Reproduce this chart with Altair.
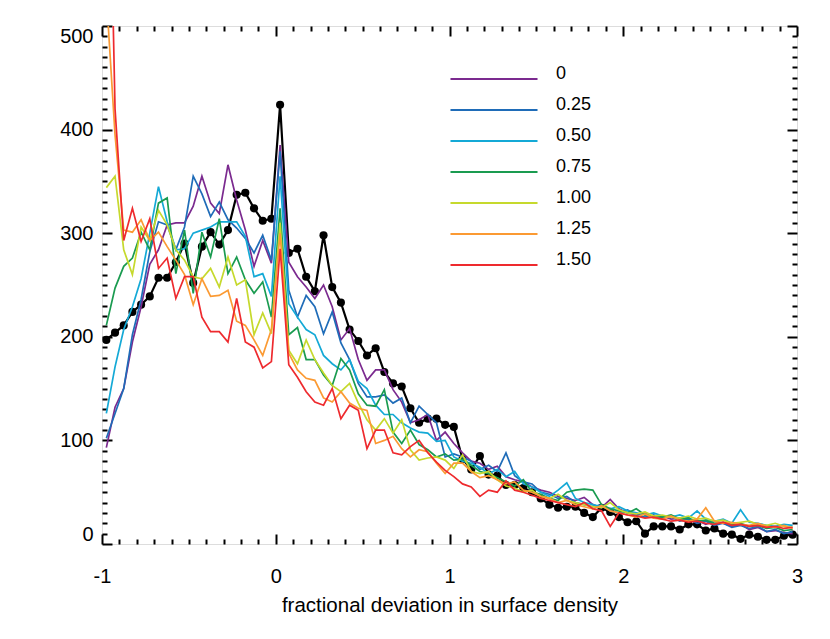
import altair as alt
import pandas as pd

# bin centres of the histogram (step 0.05 from -0.975 to 2.975)
x_centres = [round(-0.975 + 0.05 * i, 3) for i in range(80)]

series_names = ["0", "0.25", "0.50", "0.75", "1.00", "1.25", "1.50"]
series_colors = ["#7b2a8f", "#1f6cb8", "#14a9d6", "#1a9b50", "#c6d92d", "#fb9a33", "#ee2a2e"]

s_000 = [93, 132, 150, 195, 229, 270, 284, 308, 310, 310,
         326, 355, 329, 319, 366, 332, 303, 268, 293, 271,
         385, 272, 258, 248, 237, 250, 229, 197, 208, 178,
         158, 168, 168, 149, 137, 117, 120, 125, 100, 108,
         97, 88, 80, 78, 72, 75, 65, 62, 60, 55,
         52, 50, 46, 44, 42, 45, 38, 35, 43, 34,
         30, 28, 30, 26, 27, 24, 25, 22, 23, 19,
         22, 20, 17, 19, 14, 16, 12, 13, 11, 10]
s_025 = [102, 126, 150, 202, 236, 282, 311, 308, 284, 306,
         355, 338, 316, 330, 313, 305, 295, 281, 298, 274,
         379, 245, 219, 240, 229, 203, 224, 194, 178, 155,
         142, 142, 144, 136, 141, 117, 133, 125, 117, 84,
         87, 84, 80, 72, 76, 70, 88, 66, 60, 58,
         50, 48, 44, 46, 40, 38, 36, 38, 32, 30,
         33, 28, 26, 28, 25, 27, 22, 24, 20, 22,
         18, 20, 16, 18, 15, 17, 12, 14, 10, 12]
s_050 = [126, 171, 207, 229, 256, 300, 345, 311, 284, 285,
         300, 303, 306, 311, 311, 311, 297, 258, 261, 239,
         355, 232, 219, 207, 202, 182, 174, 168, 178, 157,
         150, 134, 125, 125, 117, 112, 108, 107, 99, 100,
         84, 80, 78, 74, 68, 72, 65, 70, 58, 55,
         50, 46, 52, 59, 44, 40, 38, 36, 34, 36,
         32, 30, 28, 30, 27, 26, 28, 25, 32, 24,
         22, 24, 20, 33, 21, 20, 18, 17, 19, 18]
s_075 = [211, 247, 268, 276, 301, 284, 329, 334, 261, 303,
         242, 301, 277, 314, 261, 277, 255, 242, 253, 219,
         324, 202, 209, 178, 178, 163, 153, 179, 168, 145,
         134, 133, 149, 108, 97, 110, 96, 91, 84, 87,
         81, 82, 76, 70, 68, 64, 60, 56, 62, 50,
         48, 44, 42, 50, 52, 53, 52, 38, 34, 32,
         30, 34, 28, 27, 26, 28, 24, 25, 22, 23,
         20, 21, 19, 20, 17, 18, 15, 16, 13, 14]
s_100 = [344, 355, 284, 260, 306, 293, 322, 308, 284, 274,
         258, 256, 266, 248, 277, 250, 255, 202, 223, 203,
         310, 187, 174, 197, 178, 165, 153, 147, 155, 136,
         120, 110, 121, 107, 120, 91, 81, 83, 84, 81,
         73, 86, 70, 68, 70, 62, 56, 54, 50, 52,
         46, 44, 48, 42, 40, 38, 36, 35, 40, 33,
         30, 29, 31, 27, 28, 26, 25, 27, 24, 25,
         22, 23, 20, 21, 22, 19, 18, 20, 17, 16]
s_125 = [530, 395, 303, 301, 313, 293, 301, 287, 274, 260,
         231, 256, 239, 240, 245, 215, 211, 197, 182, 207,
         300, 184, 168, 160, 158, 141, 137, 147, 136, 131,
         129, 97, 100, 104, 92, 84, 91, 89, 78, 68,
         78, 78, 70, 64, 66, 62, 58, 60, 52, 50,
         46, 44, 40, 42, 38, 36, 34, 37, 32, 30,
         28, 26, 29, 25, 24, 27, 23, 22, 24, 35,
         22, 20, 21, 19, 18, 20, 17, 16, 18, 15]
s_150 = [820, 420, 293, 324, 292, 314, 266, 276, 237, 258,
         258, 219, 205, 205, 195, 237, 195, 190, 170, 176,
         285, 173, 161, 147, 137, 134, 150, 121, 134, 129,
         92, 110, 110, 88, 86, 94, 100, 88, 79, 71,
         65, 58, 55, 46, 52, 50, 61, 52, 50, 47,
         44, 42, 40, 38, 36, 40, 34, 32, 17, 30,
         28, 27, 25, 26, 24, 22, 23, 21, 22, 20,
         19, 21, 18, 19, 17, 18, 16, 17, 15, 16]
s_black = [197, 204, 211, 224, 231, 239, 257, 257, 272, 290,
           252, 287, 301, 289, 303, 337, 339, 324, 312, 314,
           424, 281, 285, 258, 244, 298, 248, 233, 207, 196,
           182, 189, 166, 155, 152, 131, 117, 121, 121, 115,
           113, 82, 72, 85, 67, 66, 57, 57, 54, 50,
           44, 38, 35, 36, 36, 30, 26, 35, 31, 26,
           21, 22, 10, 17, 17, 17, 14, 19, 19, 13,
           15, 10, 9, 5, 9, 7, 4, 4, 8, 9]

x_major = [-1, 0, 1, 2, 3]
x_minor = [round(-1 + 0.1 * k, 1) for k in range(41) if k % 10 != 0]
y_major = [0, 100, 200, 300, 400, 500]
y_minor = [v for v in range(0, 501, 10) if v % 100 != 0]

colored = [s_000, s_025, s_050, s_075, s_100, s_125, s_150]
rows = []
for order, (name, vals) in enumerate(zip(series_names, colored)):
    for xv, yv in zip(x_centres, vals):
        rows.append({"x": xv, "y": yv, "series": name, "order": order})
df_col = pd.DataFrame(rows)
df_blk = pd.DataFrame({"x": x_centres, "y": s_black})

FONT = "Liberation Sans"
xs = alt.Scale(domain=[-1, 3], nice=False, zero=False)
ys = alt.Scale(domain=[0, 500], nice=False, zero=False)


def tick_axis(orient, values, size, labels=False, **kw):
    title = kw.pop("title", None)
    return alt.Axis(orient=orient, values=values, offset=-size, tickSize=size,
                    tickWidth=2, tickColor="black", domain=False, grid=False,
                    labels=labels, title=title, **kw)


lbl_expr = "datum.value < 0 ? '-' + abs(datum.value) : '' + datum.value"

black_line = alt.Chart(df_blk).mark_line(color="black", strokeWidth=2.2).encode(
    x=alt.X("x:Q", scale=xs, axis=tick_axis("top", x_major, 10)),
    y=alt.Y("y:Q", scale=ys, axis=tick_axis("right", y_major, 10)),
)

black_pts = alt.Chart(df_blk).mark_circle(color="black", size=66, opacity=1).encode(
    x=alt.X("x:Q", scale=xs, axis=tick_axis("bottom", x_minor, 5)),
    y=alt.Y("y:Q", scale=ys, axis=tick_axis("left", y_minor, 5)),
)

colored_lines = alt.Chart(df_col).mark_line(strokeWidth=1.7, clip=True).encode(
    x=alt.X("x:Q", scale=xs, axis=tick_axis(
        "bottom", x_major, 10, labels=True, labelPadding=22, labelFontSize=20,
        labelFont=FONT, labelColor="black", labelExpr=lbl_expr, labelFlush=False,
        title="fractional deviation in surface density", titleFont=FONT,
        titleFontSize=20.5, titleFontWeight="normal", titleColor="black",
        titlePadding=9)),
    y=alt.Y("y:Q", scale=ys, axis=tick_axis(
        "left", y_major, 10, labels=True, labelPadding=9, labelFontSize=20,
        labelFont=FONT, labelColor="black", labelFlush=True)),
    color=alt.Color("series:N", scale=alt.Scale(domain=series_names, range=series_colors),
                    legend=alt.Legend(orient="none", legendX=382, legendY=43, title=None,
                                      symbolType="M-5,0H5", symbolSize=303,
                                      symbolStrokeWidth=2, labelFontSize=18,
                                      labelFont=FONT, labelColor="black", labelOffset=52,
                                      rowPadding=13, labelBaseline="alphabetic",
                                      padding=0, direction="vertical")),
    order=alt.Order("order:Q"),
    detail="series:N",
)

top_minor = alt.Chart(df_blk).mark_line(strokeOpacity=0).encode(
    x=alt.X("x:Q", scale=xs, axis=tick_axis("top", x_minor, 5)),
    y=alt.Y("y:Q", scale=ys, axis=tick_axis("right", y_minor, 5)),
)

chart = alt.layer(black_line, black_pts, colored_lines, top_minor).resolve_scale(
    x="independent", y="independent"
).resolve_axis(
    x="independent", y="independent"
).properties(
    width=695, height=518,
    autosize=alt.AutoSizeParams(type="none"),
    padding={"left": 94, "top": 18, "right": 25, "bottom": 80},
).configure_view(stroke="black", strokeWidth=2).configure(background="white")

chart.save("out.html", embed_options={"renderer": "svg", "actions": False})
